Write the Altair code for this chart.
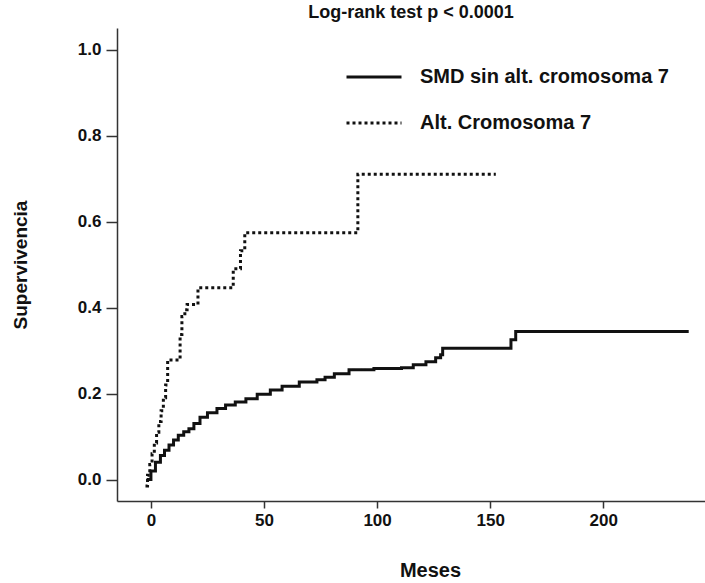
import altair as alt
import pandas as pd

# Series 1: SMD sin alt. cromosoma 7 (step points: month, cumulative value)
smd_x = [-1.9, 0, 2, 4.2, 6, 8, 10, 12.1, 14.5, 16.8, 19, 21.7, 25, 29.2, 33, 37.3, 42, 47,
         52.8, 58, 65.6, 73.4, 77, 81.1, 87.6, 98.6, 110.8, 116, 121.6, 125.9, 128.1, 129,
         159.2, 161.3, 237.8]
smd_y = [0.0, 0.02, 0.04, 0.056, 0.068, 0.08, 0.092, 0.103, 0.111, 0.118, 0.13, 0.145, 0.155,
         0.165, 0.173, 0.180, 0.188, 0.198, 0.208, 0.217, 0.227, 0.232, 0.238, 0.246, 0.255,
         0.258, 0.26, 0.267, 0.274, 0.283, 0.29, 0.305, 0.325, 0.344, 0.344]

# Series 2: Alt. Cromosoma 7
alt7_x = [-2.4, -1.5, -0.5, 0.5, 1.5, 2.5, 3.5, 4.5, 5.5, 6.5, 7.4, 12.9, 13.7, 15.0, 16.0,
          20.8, 36.4, 39.6, 41.5, 91.5, 152.5]
alt7_y = [-0.015, 0.01, 0.035, 0.06, 0.085, 0.11, 0.135, 0.16, 0.19, 0.22, 0.278, 0.337, 0.379,
          0.395, 0.407, 0.446, 0.49, 0.532, 0.574, 0.710, 0.710]

series_names = ["SMD sin alt. cromosoma 7", "Alt. Cromosoma 7"]
x_ticks = [0, 50, 100, 150, 200]
y_ticks = [0.0, 0.2, 0.4, 0.6, 0.8, 1.0]

df = pd.concat([
    pd.DataFrame({"Meses": smd_x, "Supervivencia": smd_y, "grupo": series_names[0]}),
    pd.DataFrame({"Meses": alt7_x, "Supervivencia": alt7_y, "grupo": series_names[1]}),
])

FONT = "Liberation Sans"

chart = alt.Chart(df).mark_line(
    interpolate="step-after", strokeWidth=3, color="#111111", strokeCap="butt"
).encode(
    x=alt.X("Meses:Q", scale=alt.Scale(domain=[-15, 245], nice=False, zero=False),
            axis=alt.Axis(values=x_ticks, format="d", title="Meses", grid=False,
                          tickSize=7, labelPadding=4, titleX=313, titleY=69,
                          titleBaseline="middle", titleFontSize=20)),
    y=alt.Y("Supervivencia:Q", scale=alt.Scale(domain=[-0.05, 1.05], nice=False, zero=False),
            axis=alt.Axis(values=y_ticks, format=".1f", title="Supervivencia", grid=False,
                          tickSize=11, labelPadding=5, titlePadding=47, titleFontSize=19)),
    strokeDash=alt.StrokeDash("grupo:N",
        scale=alt.Scale(domain=series_names, range=[[1, 0], [3, 3]]),
        legend=alt.Legend(title=None, orient="none", legendX=228, legendY=20,
                          symbolType="stroke", symbolSize=3025, symbolStrokeWidth=3,
                          symbolStrokeColor="#111111", labelFontSize=20,
                          labelFontWeight="bold", labelFont=FONT, labelColor="#111111",
                          labelOffset=17, rowPadding=7, labelLimit=400)),
    detail="grupo:N",
).properties(
    width=588, height=473,
    title=alt.TitleParams("Log-rank test p < 0.0001", fontSize=18, fontWeight="bold",
                          font=FONT, color="#111111", offset=6, anchor="middle"),
    padding={"left": 117, "top": 28, "right": 0, "bottom": 82},
    autosize=alt.AutoSizeParams(type="none"),
).configure_view(stroke=None).configure_axis(
    domainColor="#333333", domainWidth=1.5, tickColor="#333333", tickWidth=1.5,
    labelFont=FONT, labelFontSize=17, labelFontWeight="bold", labelColor="#111111",
    titleFont=FONT, titleFontWeight="bold", titleColor="#111111",
)

chart.save("out.html", embed_options={"renderer": "svg", "actions": False})
